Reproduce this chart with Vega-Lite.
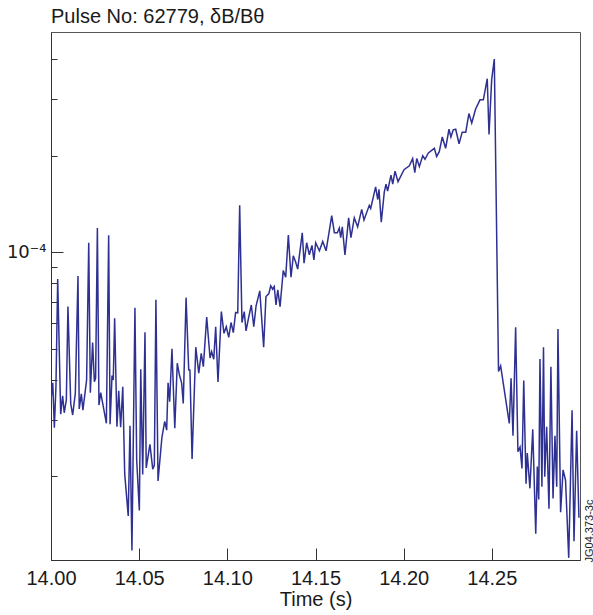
{
  "$schema": "https://vega.github.io/schema/vega-lite/v6.json",
  "width": 529,
  "height": 528,
  "autosize": {"type": "none"},
  "padding": {"left": 51, "top": 32, "right": 13, "bottom": 55},
  "background": "white",
  "config": {
    "view": {"stroke": "#555", "strokeWidth": 1},
    "font": "Liberation Sans",
    "title": {"font": "Liberation Sans", "fontSize": 20, "fontWeight": "normal", "color": "#1a1a1a"}
  },
  "title": {"text": "Pulse No: 62779, δB/Bθ", "anchor": "start", "frame": "group", "offset": 5},
  "data": {"values": [
    {"t": 14.0000, "v": 3.455e-5}, {"t": 14.0010, "v": 3.91e-5}, {"t": 14.0019, "v": 2.83e-5}, {"t": 14.0028, "v": 3.80e-5},
    {"t": 14.0038, "v": 8.25e-5}, {"t": 14.0055, "v": 3.12e-5}, {"t": 14.0066, "v": 3.56e-5}, {"t": 14.0075, "v": 3.15e-5},
    {"t": 14.0087, "v": 3.46e-5}, {"t": 14.0096, "v": 6.76e-5}, {"t": 14.0112, "v": 3.36e-5}, {"t": 14.0123, "v": 3.10e-5},
    {"t": 14.0138, "v": 3.63e-5}, {"t": 14.0153, "v": 8.43e-5}, {"t": 14.0160, "v": 3.24e-5}, {"t": 14.0172, "v": 3.61e-5},
    {"t": 14.0181, "v": 3.21e-5}, {"t": 14.0202, "v": 3.99e-5}, {"t": 14.0214, "v": 1.07e-4}, {"t": 14.0223, "v": 3.64e-5},
    {"t": 14.0236, "v": 5.22e-5}, {"t": 14.0246, "v": 3.94e-5}, {"t": 14.0253, "v": 4.04e-5}, {"t": 14.0263, "v": 1.19e-4},
    {"t": 14.0272, "v": 3.33e-5}, {"t": 14.0282, "v": 3.64e-5}, {"t": 14.0314, "v": 2.92e-5}, {"t": 14.0327, "v": 1.13e-4},
    {"t": 14.0335, "v": 2.90e-5}, {"t": 14.0346, "v": 4.12e-5}, {"t": 14.0353, "v": 3.99e-5}, {"t": 14.0361, "v": 6.22e-5},
    {"t": 14.0374, "v": 2.85e-5}, {"t": 14.0384, "v": 3.69e-5}, {"t": 14.0395, "v": 2.84e-5}, {"t": 14.0407, "v": 3.80e-5},
    {"t": 14.0418, "v": 2.03e-5}, {"t": 14.0438, "v": 1.50e-5}, {"t": 14.0448, "v": 2.87e-5}, {"t": 14.0459, "v": 1.17e-5},
    {"t": 14.0476, "v": 6.71e-5}, {"t": 14.0486, "v": 2.24e-5}, {"t": 14.0501, "v": 1.56e-5}, {"t": 14.0509, "v": 4.31e-5},
    {"t": 14.0520, "v": 2.02e-5}, {"t": 14.0533, "v": 5.62e-5}, {"t": 14.0540, "v": 2.12e-5}, {"t": 14.0561, "v": 2.51e-5},
    {"t": 14.0577, "v": 2.10e-5}, {"t": 14.0586, "v": 2.16e-5}, {"t": 14.0595, "v": 7.10e-5}, {"t": 14.0607, "v": 1.93e-5},
    {"t": 14.0629, "v": 2.64e-5}, {"t": 14.0645, "v": 2.96e-5}, {"t": 14.0656, "v": 2.78e-5}, {"t": 14.0664, "v": 3.91e-5},
    {"t": 14.0673, "v": 3.41e-5}, {"t": 14.0686, "v": 4.99e-5}, {"t": 14.0702, "v": 2.82e-5}, {"t": 14.0716, "v": 4.50e-5},
    {"t": 14.0728, "v": 4.14e-5}, {"t": 14.0741, "v": 3.90e-5}, {"t": 14.0750, "v": 3.37e-5}, {"t": 14.0766, "v": 7.21e-5},
    {"t": 14.0781, "v": 4.29e-5}, {"t": 14.0788, "v": 4.28e-5}, {"t": 14.0800, "v": 2.26e-5}, {"t": 14.0821, "v": 5.05e-5},
    {"t": 14.0838, "v": 4.19e-5}, {"t": 14.0852, "v": 4.83e-5}, {"t": 14.0864, "v": 4.39e-5}, {"t": 14.0883, "v": 6.27e-5},
    {"t": 14.0902, "v": 4.67e-5}, {"t": 14.0911, "v": 4.89e-5}, {"t": 14.0923, "v": 4.63e-5}, {"t": 14.0934, "v": 5.85e-5},
    {"t": 14.0947, "v": 3.93e-5}, {"t": 14.0966, "v": 6.52e-5}, {"t": 14.0981, "v": 5.58e-5}, {"t": 14.0994, "v": 5.85e-5},
    {"t": 14.1008, "v": 5.42e-5}, {"t": 14.1021, "v": 6.03e-5}, {"t": 14.1034, "v": 5.61e-5}, {"t": 14.1047, "v": 6.48e-5},
    {"t": 14.1059, "v": 6.46e-5}, {"t": 14.1070, "v": 1.40e-4}, {"t": 14.1083, "v": 6.03e-5}, {"t": 14.1096, "v": 6.52e-5},
    {"t": 14.1106, "v": 5.68e-5}, {"t": 14.1119, "v": 6.18e-5}, {"t": 14.1136, "v": 6.84e-5}, {"t": 14.1150, "v": 5.85e-5},
    {"t": 14.1163, "v": 6.80e-5}, {"t": 14.1184, "v": 7.57e-5}, {"t": 14.1206, "v": 5.05e-5}, {"t": 14.1219, "v": 7.27e-5},
    {"t": 14.1235, "v": 7.41e-5}, {"t": 14.1246, "v": 7.85e-5}, {"t": 14.1257, "v": 7.66e-5}, {"t": 14.1266, "v": 7.81e-5},
    {"t": 14.1276, "v": 6.84e-5}, {"t": 14.1286, "v": 7.62e-5}, {"t": 14.1299, "v": 6.76e-5}, {"t": 14.1317, "v": 8.76e-5},
    {"t": 14.1331, "v": 8.35e-5}, {"t": 14.1346, "v": 1.13e-4}, {"t": 14.1361, "v": 8.35e-5}, {"t": 14.1374, "v": 9.74e-5},
    {"t": 14.1387, "v": 9.33e-5}, {"t": 14.1399, "v": 8.85e-5}, {"t": 14.1425, "v": 1.15e-4}, {"t": 14.1435, "v": 9.24e-5},
    {"t": 14.1450, "v": 1.07e-4}, {"t": 14.1465, "v": 9.81e-5}, {"t": 14.1480, "v": 1.05e-4}, {"t": 14.1491, "v": 9.46e-5},
    {"t": 14.1501, "v": 1.07e-4}, {"t": 14.1522, "v": 1.01e-4}, {"t": 14.1541, "v": 1.08e-4}, {"t": 14.1560, "v": 1.01e-4},
    {"t": 14.1592, "v": 1.30e-4}, {"t": 14.1607, "v": 1.15e-4}, {"t": 14.1624, "v": 1.15e-4}, {"t": 14.1635, "v": 1.19e-4},
    {"t": 14.1643, "v": 1.11e-4}, {"t": 14.1652, "v": 1.20e-4}, {"t": 14.1667, "v": 9.81e-5}, {"t": 14.1688, "v": 1.28e-4},
    {"t": 14.1701, "v": 1.11e-4}, {"t": 14.1720, "v": 1.28e-4}, {"t": 14.1739, "v": 1.20e-4}, {"t": 14.1762, "v": 1.36e-4},
    {"t": 14.1775, "v": 1.26e-4}, {"t": 14.1805, "v": 1.40e-4}, {"t": 14.1813, "v": 1.37e-4}, {"t": 14.1841, "v": 1.60e-4},
    {"t": 14.1853, "v": 1.46e-4}, {"t": 14.1860, "v": 1.57e-4}, {"t": 14.1873, "v": 1.24e-4}, {"t": 14.1890, "v": 1.54e-4},
    {"t": 14.1900, "v": 1.63e-4}, {"t": 14.1909, "v": 1.55e-4}, {"t": 14.1928, "v": 1.74e-4}, {"t": 14.1938, "v": 1.63e-4},
    {"t": 14.1951, "v": 1.79e-4}, {"t": 14.1968, "v": 1.66e-4}, {"t": 14.2002, "v": 1.81e-4}, {"t": 14.2032, "v": 1.86e-4},
    {"t": 14.2051, "v": 1.96e-4}, {"t": 14.2063, "v": 1.77e-4}, {"t": 14.2074, "v": 1.96e-4}, {"t": 14.2089, "v": 1.85e-4},
    {"t": 14.2108, "v": 2.00e-4}, {"t": 14.2121, "v": 1.95e-4}, {"t": 14.2140, "v": 2.04e-4}, {"t": 14.2174, "v": 2.11e-4},
    {"t": 14.2187, "v": 1.99e-4}, {"t": 14.2202, "v": 2.06e-4}, {"t": 14.2219, "v": 2.29e-4}, {"t": 14.2238, "v": 2.11e-4},
    {"t": 14.2257, "v": 2.42e-4}, {"t": 14.2268, "v": 2.29e-4}, {"t": 14.2281, "v": 2.41e-4}, {"t": 14.2295, "v": 2.42e-4},
    {"t": 14.2314, "v": 2.18e-4}, {"t": 14.2332, "v": 2.37e-4}, {"t": 14.2352, "v": 2.37e-4}, {"t": 14.2370, "v": 2.71e-4},
    {"t": 14.2386, "v": 2.53e-4}, {"t": 14.2408, "v": 2.80e-4}, {"t": 14.2433, "v": 2.99e-4}, {"t": 14.2452, "v": 2.99e-4},
    {"t": 14.2474, "v": 3.48e-4}, {"t": 14.2484, "v": 2.33e-4}, {"t": 14.2499, "v": 3.45e-4}, {"t": 14.2514, "v": 4.01e-4},
    {"t": 14.2538, "v": 4.24e-5}, {"t": 14.2550, "v": 4.41e-5}, {"t": 14.2599, "v": 2.92e-5}, {"t": 14.2609, "v": 4.04e-5},
    {"t": 14.2620, "v": 2.67e-5}, {"t": 14.2635, "v": 5.83e-5}, {"t": 14.2648, "v": 2.38e-5}, {"t": 14.2660, "v": 2.46e-5},
    {"t": 14.2671, "v": 2.11e-5}, {"t": 14.2681, "v": 3.97e-5}, {"t": 14.2694, "v": 1.89e-5}, {"t": 14.2701, "v": 2.36e-5},
    {"t": 14.2716, "v": 1.83e-5}, {"t": 14.2732, "v": 2.80e-5}, {"t": 14.2749, "v": 1.32e-5}, {"t": 14.2758, "v": 2.14e-5},
    {"t": 14.2766, "v": 1.69e-5}, {"t": 14.2773, "v": 4.64e-5}, {"t": 14.2784, "v": 1.85e-5}, {"t": 14.2793, "v": 5.05e-5},
    {"t": 14.2800, "v": 1.99e-5}, {"t": 14.2811, "v": 2.85e-5}, {"t": 14.2824, "v": 1.58e-5}, {"t": 14.2835, "v": 4.39e-5},
    {"t": 14.2847, "v": 1.70e-5}, {"t": 14.2858, "v": 2.67e-5}, {"t": 14.2868, "v": 1.85e-5}, {"t": 14.2875, "v": 5.75e-5},
    {"t": 14.2890, "v": 1.54e-5}, {"t": 14.2904, "v": 2.09e-5}, {"t": 14.2918, "v": 1.94e-5}, {"t": 14.2936, "v": 1.11e-5},
    {"t": 14.2955, "v": 3.21e-5}, {"t": 14.2966, "v": 1.25e-5}, {"t": 14.2981, "v": 2.77e-5}, {"t": 14.2994, "v": 1.48e-5}
  ]},
  "layer": [
    {
      "mark": {"type": "line", "color": "#2e3192", "strokeWidth": 1.5, "clip": true},
      "encoding": {
        "x": {
          "field": "t", "type": "quantitative",
          "scale": {"domain": [14.0, 14.3], "nice": false, "zero": false},
          "axis": {
            "title": "Time (s)", "titleFontSize": 20, "titleFontWeight": "normal", "titleColor": "#1a1a1a", "titlePadding": 1,
            "values": [14.0, 14.05, 14.1, 14.15, 14.2, 14.25], "format": ".2f",
            "labelFontSize": 20, "labelColor": "#1a1a1a", "labelPadding": 20, "labelFlush": false,
            "tickSize": -12, "tickColor": "#333", "domainColor": "#333", "grid": false
          }
        },
        "y": {
          "field": "v", "type": "quantitative",
          "scale": {"type": "log", "domain": [1.093e-5, 4.87e-4], "nice": false},
          "axis": {
            "title": null, "grid": false, "labelOverlap": false,
            "labelExpr": "abs(log(datum.value)/LN10 + 4) < 0.01 ? '10⁻⁴' : ''",
            "labelFont": "DejaVu Sans", "labelFontSize": 18, "labelColor": "#1a1a1a", "labelPadding": 17,
            "tickSize": {"condition": {"test": "abs(log(datum.value)/LN10 + 4) < 0.01", "value": -12}, "value": -6},
            "tickColor": "#333", "domainColor": "#333"
          }
        }
      }
    },
    {
      "mark": {"type": "line", "opacity": 0},
      "encoding": {
        "x": {"field": "t", "type": "quantitative"},
        "y": {
          "field": "v", "type": "quantitative",
          "axis": {
            "orient": "right", "title": "JG04.373-3c", "labels": false, "ticks": false, "domain": false, "grid": false,
            "titleAngle": 270, "titleX": 9, "titleY": 530, "titleAlign": "left", "titleBaseline": "middle",
            "titleFontSize": 11, "titleFontWeight": "normal", "titleColor": "#1a1a1a"
          }
        }
      }
    }
  ],
  "resolve": {"axis": {"y": "independent"}}
}
